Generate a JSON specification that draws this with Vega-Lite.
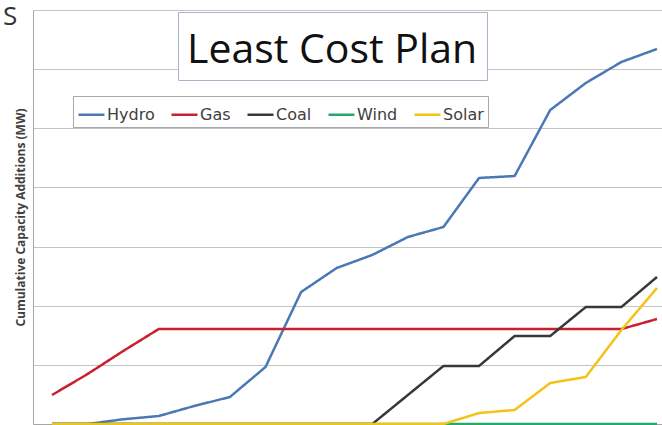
{
  "$schema": "https://vega.github.io/schema/vega-lite/v6.json",
  "autosize": {"type": "none"},
  "padding": {"left": 33, "top": 10, "right": 0, "bottom": 1},
  "width": 629,
  "height": 414,
  "background": "white",
  "title": {"text": "S", "anchor": "start", "frame": "group", "fontSize": 26, "font": "Open Sans", "fontWeight": "normal", "color": "#333333", "baseline": "alphabetic", "offset": 0, "dx": -30, "dy": 41},
  "config": {"view": {"stroke": null}},
  "data": {"values": [
    {"Year": 2013, "Source": "Hydro", "MW": 0, "Plan": "Least Cost Plan"},
    {"Year": 2014, "Source": "Hydro", "MW": 0, "Plan": "Least Cost Plan"},
    {"Year": 2015, "Source": "Hydro", "MW": 80, "Plan": "Least Cost Plan"},
    {"Year": 2016, "Source": "Hydro", "MW": 135, "Plan": "Least Cost Plan"},
    {"Year": 2017, "Source": "Hydro", "MW": 305, "Plan": "Least Cost Plan"},
    {"Year": 2018, "Source": "Hydro", "MW": 457, "Plan": "Least Cost Plan"},
    {"Year": 2019, "Source": "Hydro", "MW": 964, "Plan": "Least Cost Plan"},
    {"Year": 2020, "Source": "Hydro", "MW": 2232, "Plan": "Least Cost Plan"},
    {"Year": 2021, "Source": "Hydro", "MW": 2638, "Plan": "Least Cost Plan"},
    {"Year": 2022, "Source": "Hydro", "MW": 2858, "Plan": "Least Cost Plan"},
    {"Year": 2023, "Source": "Hydro", "MW": 3162, "Plan": "Least Cost Plan"},
    {"Year": 2024, "Source": "Hydro", "MW": 3331, "Plan": "Least Cost Plan"},
    {"Year": 2025, "Source": "Hydro", "MW": 4160, "Plan": "Least Cost Plan"},
    {"Year": 2026, "Source": "Hydro", "MW": 4193, "Plan": "Least Cost Plan"},
    {"Year": 2027, "Source": "Hydro", "MW": 5309, "Plan": "Least Cost Plan"},
    {"Year": 2028, "Source": "Hydro", "MW": 5766, "Plan": "Least Cost Plan"},
    {"Year": 2029, "Source": "Hydro", "MW": 6121, "Plan": "Least Cost Plan"},
    {"Year": 2030, "Source": "Hydro", "MW": 6341, "Plan": "Least Cost Plan"},
    {"Year": 2013, "Source": "Gas", "MW": 490, "Plan": "Least Cost Plan"},
    {"Year": 2014, "Source": "Gas", "MW": 845, "Plan": "Least Cost Plan"},
    {"Year": 2015, "Source": "Gas", "MW": 1234, "Plan": "Least Cost Plan"},
    {"Year": 2016, "Source": "Gas", "MW": 1606, "Plan": "Least Cost Plan"},
    {"Year": 2017, "Source": "Gas", "MW": 1606, "Plan": "Least Cost Plan"},
    {"Year": 2018, "Source": "Gas", "MW": 1606, "Plan": "Least Cost Plan"},
    {"Year": 2019, "Source": "Gas", "MW": 1606, "Plan": "Least Cost Plan"},
    {"Year": 2020, "Source": "Gas", "MW": 1606, "Plan": "Least Cost Plan"},
    {"Year": 2021, "Source": "Gas", "MW": 1606, "Plan": "Least Cost Plan"},
    {"Year": 2022, "Source": "Gas", "MW": 1606, "Plan": "Least Cost Plan"},
    {"Year": 2023, "Source": "Gas", "MW": 1606, "Plan": "Least Cost Plan"},
    {"Year": 2024, "Source": "Gas", "MW": 1606, "Plan": "Least Cost Plan"},
    {"Year": 2025, "Source": "Gas", "MW": 1606, "Plan": "Least Cost Plan"},
    {"Year": 2026, "Source": "Gas", "MW": 1606, "Plan": "Least Cost Plan"},
    {"Year": 2027, "Source": "Gas", "MW": 1606, "Plan": "Least Cost Plan"},
    {"Year": 2028, "Source": "Gas", "MW": 1606, "Plan": "Least Cost Plan"},
    {"Year": 2029, "Source": "Gas", "MW": 1606, "Plan": "Least Cost Plan"},
    {"Year": 2030, "Source": "Gas", "MW": 1775, "Plan": "Least Cost Plan"},
    {"Year": 2013, "Source": "Coal", "MW": 0, "Plan": "Least Cost Plan"},
    {"Year": 2014, "Source": "Coal", "MW": 0, "Plan": "Least Cost Plan"},
    {"Year": 2015, "Source": "Coal", "MW": 0, "Plan": "Least Cost Plan"},
    {"Year": 2016, "Source": "Coal", "MW": 0, "Plan": "Least Cost Plan"},
    {"Year": 2017, "Source": "Coal", "MW": 0, "Plan": "Least Cost Plan"},
    {"Year": 2018, "Source": "Coal", "MW": 0, "Plan": "Least Cost Plan"},
    {"Year": 2019, "Source": "Coal", "MW": 0, "Plan": "Least Cost Plan"},
    {"Year": 2020, "Source": "Coal", "MW": 0, "Plan": "Least Cost Plan"},
    {"Year": 2021, "Source": "Coal", "MW": 0, "Plan": "Least Cost Plan"},
    {"Year": 2022, "Source": "Coal", "MW": 0, "Plan": "Least Cost Plan"},
    {"Year": 2023, "Source": "Coal", "MW": 490, "Plan": "Least Cost Plan"},
    {"Year": 2024, "Source": "Coal", "MW": 981, "Plan": "Least Cost Plan"},
    {"Year": 2025, "Source": "Coal", "MW": 981, "Plan": "Least Cost Plan"},
    {"Year": 2026, "Source": "Coal", "MW": 1488, "Plan": "Least Cost Plan"},
    {"Year": 2027, "Source": "Coal", "MW": 1488, "Plan": "Least Cost Plan"},
    {"Year": 2028, "Source": "Coal", "MW": 1978, "Plan": "Least Cost Plan"},
    {"Year": 2029, "Source": "Coal", "MW": 1978, "Plan": "Least Cost Plan"},
    {"Year": 2030, "Source": "Coal", "MW": 2486, "Plan": "Least Cost Plan"},
    {"Year": 2013, "Source": "Wind", "MW": 0, "Plan": "Least Cost Plan"},
    {"Year": 2014, "Source": "Wind", "MW": 0, "Plan": "Least Cost Plan"},
    {"Year": 2015, "Source": "Wind", "MW": 0, "Plan": "Least Cost Plan"},
    {"Year": 2016, "Source": "Wind", "MW": 0, "Plan": "Least Cost Plan"},
    {"Year": 2017, "Source": "Wind", "MW": 0, "Plan": "Least Cost Plan"},
    {"Year": 2018, "Source": "Wind", "MW": 0, "Plan": "Least Cost Plan"},
    {"Year": 2019, "Source": "Wind", "MW": 0, "Plan": "Least Cost Plan"},
    {"Year": 2020, "Source": "Wind", "MW": 0, "Plan": "Least Cost Plan"},
    {"Year": 2021, "Source": "Wind", "MW": 0, "Plan": "Least Cost Plan"},
    {"Year": 2022, "Source": "Wind", "MW": 0, "Plan": "Least Cost Plan"},
    {"Year": 2023, "Source": "Wind", "MW": 0, "Plan": "Least Cost Plan"},
    {"Year": 2024, "Source": "Wind", "MW": 0, "Plan": "Least Cost Plan"},
    {"Year": 2025, "Source": "Wind", "MW": 0, "Plan": "Least Cost Plan"},
    {"Year": 2026, "Source": "Wind", "MW": 0, "Plan": "Least Cost Plan"},
    {"Year": 2027, "Source": "Wind", "MW": 0, "Plan": "Least Cost Plan"},
    {"Year": 2028, "Source": "Wind", "MW": 0, "Plan": "Least Cost Plan"},
    {"Year": 2029, "Source": "Wind", "MW": 0, "Plan": "Least Cost Plan"},
    {"Year": 2030, "Source": "Wind", "MW": 0, "Plan": "Least Cost Plan"},
    {"Year": 2013, "Source": "Solar", "MW": 0, "Plan": "Least Cost Plan"},
    {"Year": 2014, "Source": "Solar", "MW": 0, "Plan": "Least Cost Plan"},
    {"Year": 2015, "Source": "Solar", "MW": 0, "Plan": "Least Cost Plan"},
    {"Year": 2016, "Source": "Solar", "MW": 0, "Plan": "Least Cost Plan"},
    {"Year": 2017, "Source": "Solar", "MW": 0, "Plan": "Least Cost Plan"},
    {"Year": 2018, "Source": "Solar", "MW": 0, "Plan": "Least Cost Plan"},
    {"Year": 2019, "Source": "Solar", "MW": 0, "Plan": "Least Cost Plan"},
    {"Year": 2020, "Source": "Solar", "MW": 0, "Plan": "Least Cost Plan"},
    {"Year": 2021, "Source": "Solar", "MW": 0, "Plan": "Least Cost Plan"},
    {"Year": 2022, "Source": "Solar", "MW": 0, "Plan": "Least Cost Plan"},
    {"Year": 2023, "Source": "Solar", "MW": 0, "Plan": "Least Cost Plan"},
    {"Year": 2024, "Source": "Solar", "MW": 0, "Plan": "Least Cost Plan"},
    {"Year": 2025, "Source": "Solar", "MW": 186, "Plan": "Least Cost Plan"},
    {"Year": 2026, "Source": "Solar", "MW": 237, "Plan": "Least Cost Plan"},
    {"Year": 2027, "Source": "Solar", "MW": 693, "Plan": "Least Cost Plan"},
    {"Year": 2028, "Source": "Solar", "MW": 795, "Plan": "Least Cost Plan"},
    {"Year": 2029, "Source": "Solar", "MW": 1589, "Plan": "Least Cost Plan"},
    {"Year": 2030, "Source": "Solar", "MW": 2300, "Plan": "Least Cost Plan"}
  ]},
  "mark": {"type": "line", "strokeWidth": 2.5, "strokeJoin": "round"},
  "encoding": {
    "x": {"field": "Year", "type": "quantitative",
      "scale": {"domain": [2012.466, 2030.141], "nice": false, "zero": false},
      "axis": {"title": null, "labels": false, "ticks": false, "grid": false, "domainColor": "#a6a6a6", "domainWidth": 1}},
    "y": {"field": "MW", "type": "quantitative",
      "scale": {"domain": [0, 7000], "nice": false},
      "axis": {"title": "Cumulative Capacity Additions (MW)", "values": [0, 1000, 2000, 3000, 4000, 5000, 6000, 7000],
        "labels": false, "ticks": false, "domainColor": "#a6a6a6", "gridColor": "#c4c4c4", "gridWidth": 1,
        "titleFont": "Open Sans", "titleFontSize": 12, "titleFontWeight": "bold", "titleColor": "#404040", "titlePadding": 6}},
    "color": {"field": "Source", "type": "nominal",
      "scale": {"domain": ["Hydro", "Gas", "Coal", "Wind", "Solar"], "range": ["#4a78b4", "#c8202e", "#383838", "#25a86a", "#f2c318"]},
      "legend": {"title": null, "orient": "none", "legendX": 40, "legendY": 86, "direction": "horizontal",
        "symbolType": "stroke", "symbolSize": 676, "symbolStrokeWidth": 2.5, "labelOffset": 1, "columnPadding": 11,
        "labelFont": "DejaVu Sans", "labelFontSize": 16, "labelColor": "#404040", "labelLimit": 0,
        "padding": 4, "strokeColor": "#a8a8a8", "fillColor": "white"}},
    "strokeDash": {"field": "Plan", "type": "nominal",
      "legend": {"title": null, "orient": "none", "legendX": 145, "legendY": 2,
        "symbolType": "stroke", "symbolSize": 3600, "symbolOpacity": 0, "symbolStrokeWidth": 0, "labelOffset": -60,
        "labelFont": "Open Sans", "labelFontSize": 41, "labelColor": "#111111", "labelLimit": 0,
        "padding": 9, "strokeColor": "#a8b4c8", "fillColor": "white"}}
  }
}
